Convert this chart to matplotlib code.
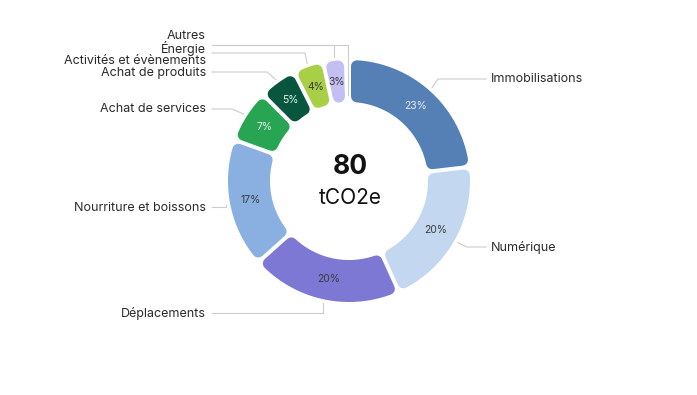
import numpy as np
import matplotlib
matplotlib.use("Agg")
import matplotlib.pyplot as plt
from matplotlib.patches import Polygon

plt.rcParams['font.family'] = ['Inter', 'DejaVu Sans']

categories = ["Immobilisations", "Numérique", "Déplacements", "Nourriture et boissons",
              "Achat de services", "Achat de produits", "Activités et évènements",
              "Énergie", "Autres"]
shares = [23, 20, 20, 17, 7, 5, 4, 3, 0.4]
colors = ["#5580B5", "#C3D7F1", "#7E78D5", "#8AAFE1", "#27A553",
          "#08563D", "#A8CF45", "#C4BFF3", "#D9D9D9"]
pct_colors = ["#E6EDF8", "#3A3A3A", "#3A3A3A", "#3A3A3A", "#E6F2EA",
              "#E6F2EA", "#3A3A3A", "#3A3A3A", "#3A3A3A"]
total_value = "80"
unit = "tCO2e"

W, H = 697, 395
fig = plt.figure(figsize=(W / 100, H / 100), dpi=100)
ax = fig.add_axes([0, 0, 1, 1])
ax.axis('off')

cx, cy = 349, H - 181
R, width = 121, 42
gap, rc = 4, 6

wedges, _ = ax.pie(shares, startangle=90, counterclock=False, center=(cx, cy),
                   radius=R, wedgeprops=dict(width=width))
ax.set_xlim(0, W)
ax.set_ylim(0, H)
ax.set_aspect('equal')

tot = sum(shares)
mids = []
for w, v, c, pc in zip(wedges, shares, colors, pct_colors):
    w.set_visible(False)
    t1, t2 = np.radians(w.theta1), np.radians(w.theta2)
    mids.append((t1 + t2) / 2)
    # shrink the wedge, then stroke it with round joins -> rounded corners
    ro, ri = R - rc, R - width + rc
    d = gap / 2 + rc
    a1o, a2o = t1 + np.arcsin(d / ro), t2 - np.arcsin(d / ro)
    a1i, a2i = t1 + np.arcsin(d / ri), t2 - np.arcsin(d / ri)
    if a2o <= a1o:
        continue
    if a2i < a1i:
        a1i = a2i = (t1 + t2) / 2
    to = np.linspace(a1o, a2o, 60)
    ti = np.linspace(a2i, a1i, 60)
    pts = np.vstack([np.column_stack([cx + ro * np.cos(to), cy + ro * np.sin(to)]),
                     np.column_stack([cx + ri * np.cos(ti), cy + ri * np.sin(ti)])])
    ax.add_patch(Polygon(pts, closed=True, facecolor=c, edgecolor=c,
                         linewidth=2 * rc * 0.72, joinstyle='round', zorder=2))
    p = v / tot * 100
    if p >= 1:
        m = (t1 + t2) / 2
        rm = R - width / 2
        ax.text(cx + rm * np.cos(m), cy + rm * np.sin(m), f"{round(p)}%",
                ha='center', va='center', fontsize=7.5, color=pc, zorder=3)

# center text
ax.text(cx + 1, H - 167, total_value, ha='center', va='center', fontsize=19,
        fontweight='bold', color='#111111')
ax.text(cx + 1, H - 198, unit, ha='center', va='center', fontsize=15, color='#111111')

# labels: (text x, text y, side, line y, elbow x, anchor radius)
label_layout = [
    (491, 79, 'left', 79, 438, 125),
    (491, 247, 'left', 247, 467, 125),
    (206, 313, 'right', 313, None, 125),
    (206, 208, 'right', 207, None, 125),
    (206, 109, 'right', 109, 232, 125),
    (206, 73, 'right', 72, 267, 125),
    (206, 61, 'right', 53, 305, 125),
    (206, 48, 'right', 45, None, 125),
    (206, 36, 'right', 45, None, 86),
]
line_c = "#CCCCCC"
for name, m, (tx, ty, side, ly, ex, ra) in zip(categories, mids, label_layout):
    ax.text(tx, H - ty, name, ha=side, va='center', fontsize=9, color='#2A2A2A')
    axp = cx + ra * np.cos(m)
    ayp = cy + ra * np.sin(m)
    x0 = tx - 5 if side == 'left' else tx + 6
    if ex is None:
        ex = axp
    ax.plot([x0, ex, axp], [H - ly, H - ly, ayp], color=line_c, lw=0.8, zorder=1)

fig.savefig("out.png", dpi=100)
